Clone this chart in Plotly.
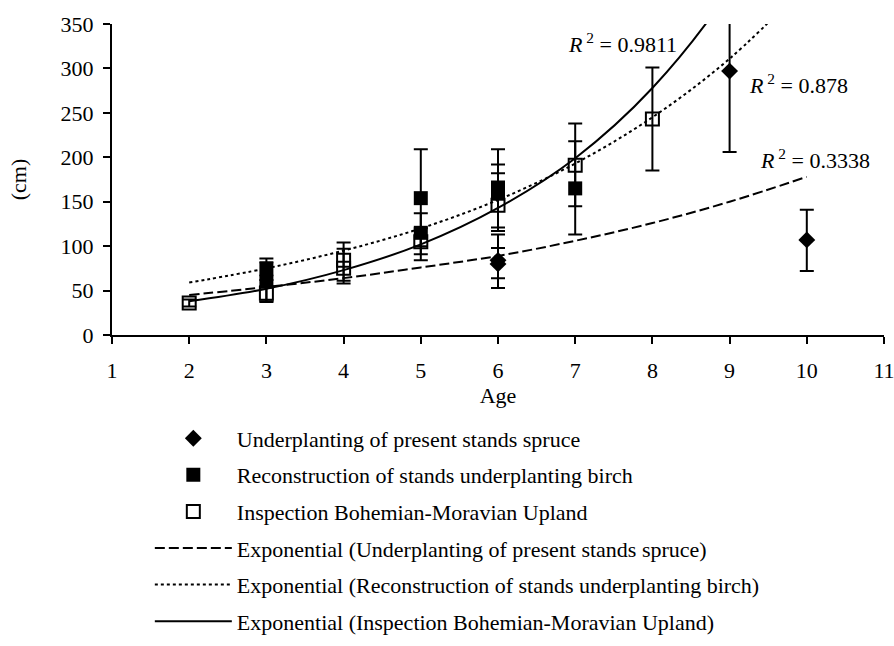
import plotly.graph_objects as go

# ---- data ----
spruce_age = [6, 6, 9, 10]
spruce_cm = [84, 80, 297, 107]
spruce_err_plus = [29, 18, 91, 34]
spruce_err_minus = [31, 16, 91, 35]

birch_age = [3, 3, 5, 5, 6, 6, 7]
birch_cm = [74, 60, 154, 115, 166, 159, 165]
birch_err_plus = [12, 22, 55, 22, 43, 33, 73]
birch_err_minus = [12, 22, 54, 24, 49, 38, 52]

insp_age = [2, 3, 4, 4, 5, 6, 7, 8]
insp_cm = [36, 47, 84, 75, 105, 146, 191, 243]
insp_err_plus = [4, 8, 20, 22, 15, 36, 27, 58]
insp_err_minus = [4, 10, 23, 17, 21, 29, 46, 58]

trend_age = [2, 3, 4, 5, 6, 7, 8, 9, 10]
spruce_trend = [45, 54, 64, 76, 89, 106, 126, 150, 178]
birch_trend = [59, 75, 95, 120, 152, 193, 245, 311, 395]
insp_trend = [38, 52, 73, 102, 143, 199, 278, 388, 540]

r2_labels = ["0.9811", "0.878", "0.3338"]
r2_x = [6.88, 9.22, 9.37]
r2_y = [329, 282, 198]

x_ticks = list(range(1, 12))
y_ticks = list(range(0, 351, 50))

names = [
    "Underplanting of present stands spruce",
    "Reconstruction of stands underplanting birch",
    "Inspection Bohemian-Moravian Upland",
    "Exponential (Underplanting of present stands spruce)",
    "Exponential (Reconstruction of stands underplanting birch)",
    "Exponential (Inspection Bohemian-Moravian Upland)",
]

FONT = "Liberation Serif"
fig = go.Figure()

def err(p, m):
    return dict(type="data", symmetric=False, array=p, arrayminus=m,
                color="black", thickness=2, width=7)

# trendlines (drawn first, under markers)
fig.add_trace(go.Scatter(x=trend_age, y=spruce_trend, mode="lines", name=names[3],
                         line=dict(color="black", width=2, dash="10px,4px", shape="spline"),
                         legendgroup="g4", legendrank=4))
fig.add_trace(go.Scatter(x=trend_age, y=birch_trend, mode="lines", name=names[4],
                         line=dict(color="black", width=2, dash="dot", shape="spline"),
                         legendgroup="g5", legendrank=5))
fig.add_trace(go.Scatter(x=trend_age, y=insp_trend, mode="lines", name=names[5],
                         line=dict(color="black", width=2, shape="spline"),
                         legendgroup="g6", legendrank=6))

fig.add_trace(go.Scatter(x=spruce_age, y=spruce_cm, mode="markers", name=names[0],
                         marker=dict(symbol="diamond", size=13, color="black"),
                         error_y=err(spruce_err_plus, spruce_err_minus),
                         legendgroup="g1", legendrank=1))
fig.add_trace(go.Scatter(x=birch_age, y=birch_cm, mode="markers", name=names[1],
                         marker=dict(symbol="square", size=14, color="black"),
                         error_y=err(birch_err_plus, birch_err_minus),
                         legendgroup="g2", legendrank=2))
fig.add_trace(go.Scatter(x=insp_age, y=insp_cm, mode="markers", name=names[2],
                         marker=dict(symbol="square-open", size=13, color="black",
                                     line=dict(width=2, color="black")),
                         error_y=err(insp_err_plus, insp_err_minus),
                         legendgroup="g3", legendrank=3))

for lab, xx, yy in zip(r2_labels, r2_x, r2_y):
    fig.add_annotation(x=xx, y=yy, xref="x", yref="y", xanchor="left", yanchor="middle",
                       text="<i>R</i><sup> 2</sup> = " + lab, showarrow=False,
                       font=dict(family=FONT, size=22, color="black"))

axis_common = dict(showline=True, linecolor="black", linewidth=2, ticks="outside",
                   ticklen=7, tickwidth=2, tickcolor="black", showgrid=False,
                   zeroline=False, tickfont=dict(family=FONT, size=22, color="black"))

fig.update_xaxes(range=[1, 11], tickvals=x_ticks, ticktext=[str(v) for v in x_ticks],
                 title=dict(text="Age", font=dict(family=FONT, size=22), standoff=5),
                 ticklabelstandoff=8, ticklabeloverflow="allow", **axis_common)
fig.update_yaxes(range=[0, 350], tickvals=y_ticks, ticktext=[str(v) for v in y_ticks],
                 title=dict(text="(cm)", font=dict(family=FONT, size=22), standoff=28),
                 ticklabelstandoff=5, **axis_common)

fig.update_layout(
    width=894, height=646,
    margin=dict(l=112, r=10, t=24, b=311, autoexpand=False),
    plot_bgcolor="white", paper_bgcolor="white",
    font=dict(family=FONT, size=22, color="black"),
    showlegend=True,
    legend=dict(x=0.049, y=-0.265, xanchor="left", yanchor="top",
                orientation="v", itemwidth=77, tracegroupgap=5,
                font=dict(family=FONT, size=22, color="black"),
                bgcolor="rgba(0,0,0,0)"),
)

fig.write_html("out.html")
